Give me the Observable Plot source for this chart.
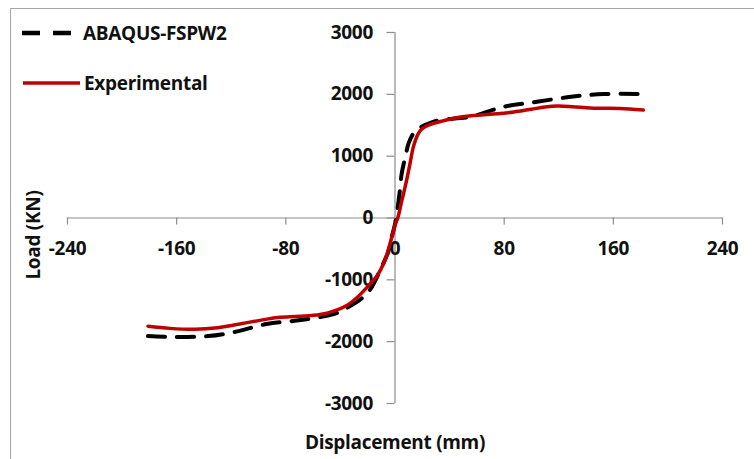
<!DOCTYPE html>
<html><head><meta charset="utf-8">
<script src="https://cdn.jsdelivr.net/npm/d3@7"></script>
<script src="https://cdn.jsdelivr.net/npm/@observablehq/plot@0.6"></script>
<style>
body{margin:0;background:#fff;font-family:"Open Sans",Lato,sans-serif;}
#wrap{position:relative;width:754px;height:459px;overflow:hidden;background:#fff}
#frame{position:absolute;left:10px;top:8px;right:-2px;bottom:-2px;border-top:1px solid #a6a6a6;border-left:1px solid #a6a6a6;pointer-events:none}
#chart{position:absolute;left:0;top:0}
.leg{position:absolute;left:0;top:0;font-weight:bold;font-size:19px;color:#111;letter-spacing:-0.3px}
.leg .item{position:absolute;white-space:nowrap;line-height:22px}
.leg svg{position:absolute}
#ytitle{position:absolute;left:33px;top:235px;width:0;height:0;}
#ytitle span{position:absolute;left:0;top:0;transform:translate(-50%,-50%) rotate(-90deg);white-space:nowrap;font-weight:bold;font-size:19px;color:#111;letter-spacing:-0.3px;line-height:22px}
</style>
</head><body>
<div id="wrap">
  <div id="chart"></div>
  <div id="frame"></div>
  <div class="leg" id="legend"></div>
  <div id="ytitle"><span></span></div>
</div>
<script>
const seriesNames = ["ABAQUS-FSPW2", "Experimental"];
const seriesColors = ["#000000", "#c00000"];
const xTicks = [-240, -160, -80, 0, 80, 160, 240];
const yTicks = [-3000, -2000, -1000, 0, 1000, 2000, 3000];
const xTitle = "Displacement (mm)";
const yTitle = "Load (KN)";

// ABAQUS-FSPW2 (dashed)
const abaqusDisp = [-181, -162, -137, -118, -94, -69, -45, -35, -25, -18, -10, -5, -3, 0, 3, 5, 7.7, 10, 13.6, 19, 25, 33, 55, 80, 104, 129, 153, 182];
const abaqusLoad = [-1910, -1925, -1910, -1845, -1715, -1650, -1555, -1450, -1310, -1150, -800, -550, -355, -100, 340, 730, 1000, 1210, 1370, 1470, 1530, 1585, 1635, 1800, 1880, 1960, 2005, 2005];

// Experimental (red)
const expDisp = [-181, -165, -147, -130, -118, -100, -86, -70, -55, -45, -35, -28, -20, -13, -8, -5, -2, 0, 2, 5, 8, 11, 13, 15, 17, 19, 22, 26, 35, 46, 60, 75, 87, 100, 110, 119, 130, 143, 153, 165, 182];
const expLoad = [-1750, -1785, -1800, -1775, -1730, -1660, -1610, -1590, -1560, -1505, -1410, -1290, -1110, -930, -720, -520, -280, -115, 0, 280, 560, 880, 1110, 1260, 1360, 1425, 1475, 1515, 1570, 1625, 1660, 1685, 1715, 1760, 1795, 1810, 1800, 1780, 1775, 1770, 1745];

const abaqus = abaqusDisp.map((d, i) => ({d, L: abaqusLoad[i]}));
const experimental = expDisp.map((d, i) => ({d, L: expLoad[i]}));

const axisColor = "#8c8c8c";
const chart = Plot.plot({
  width: 754,
  height: 459,
  marginLeft: 67,
  marginRight: 32,
  marginTop: 32,
  marginBottom: 56,
  x: {domain: [-240, 240], axis: null},
  y: {domain: [-3000, 3000], axis: null},
  style: {fontFamily: "'Open Sans', Lato, sans-serif", fontWeight: "bold", fontSize: "19px", background: "transparent", color: "#111", letterSpacing: "-0.3px"},
  marks: [
    Plot.ruleY([0], {stroke: axisColor, strokeWidth: 1.2}),
    Plot.ruleX([0], {y1: yTicks[0], y2: yTicks[yTicks.length - 1], stroke: axisColor, strokeWidth: 1.2}),
    Plot.ruleY(yTicks, {x1: 0, x2: 0, insetLeft: -8, stroke: axisColor, strokeWidth: 1.2}),
    Plot.ruleX(xTicks, {y1: 0, y2: 0, insetBottom: -7, stroke: axisColor, strokeWidth: 1.2}),
    Plot.text(yTicks, {x: 0, y: d => d, text: d => String(d), textAnchor: "end", dx: -22, fill: "#111"}),
    Plot.text(xTicks, {x: d => d, y: 0, text: d => String(d), dy: 31, fill: "#111"}),
    Plot.line(abaqus, {x: "d", y: "L", stroke: seriesColors[0], strokeWidth: 4, strokeDasharray: "17,12", curve: "catmull-rom"}),
    Plot.line(experimental, {x: "d", y: "L", stroke: seriesColors[1], strokeWidth: 3.5, curve: "catmull-rom"}),
    Plot.text([xTitle], {frameAnchor: "bottom", dy: 45, fill: "#111"})
  ]
});
document.getElementById("chart").appendChild(chart);
document.querySelector("#ytitle span").textContent = yTitle;

// legend
const leg = document.getElementById("legend");
const legendRows = [
  {name: seriesNames[0], color: seriesColors[0], dash: "18,13", width: 4.5, cy: 33, x1: 22, x2: 74, tx: 83},
  {name: seriesNames[1], color: seriesColors[1], dash: null, width: 3.5, cy: 83, x1: 23, x2: 80, tx: 84}
];
legendRows.forEach(r => {
  const ns = "http://www.w3.org/2000/svg";
  const s = document.createElementNS(ns, "svg");
  s.setAttribute("width", 80); s.setAttribute("height", 12);
  s.style.left = "0px"; s.style.top = (r.cy - 6) + "px";
  const ln = document.createElementNS(ns, "line");
  ln.setAttribute("x1", r.x1); ln.setAttribute("x2", r.x2);
  ln.setAttribute("y1", 6); ln.setAttribute("y2", 6);
  ln.setAttribute("stroke", r.color); ln.setAttribute("stroke-width", r.width);
  if (r.dash) ln.setAttribute("stroke-dasharray", r.dash);
  s.appendChild(ln);
  leg.appendChild(s);
  const t = document.createElement("div");
  t.className = "item";
  t.textContent = r.name;
  t.style.left = r.tx + "px";
  t.style.top = (r.cy - 11) + "px";
  leg.appendChild(t);
});
</script>
</body></html>
